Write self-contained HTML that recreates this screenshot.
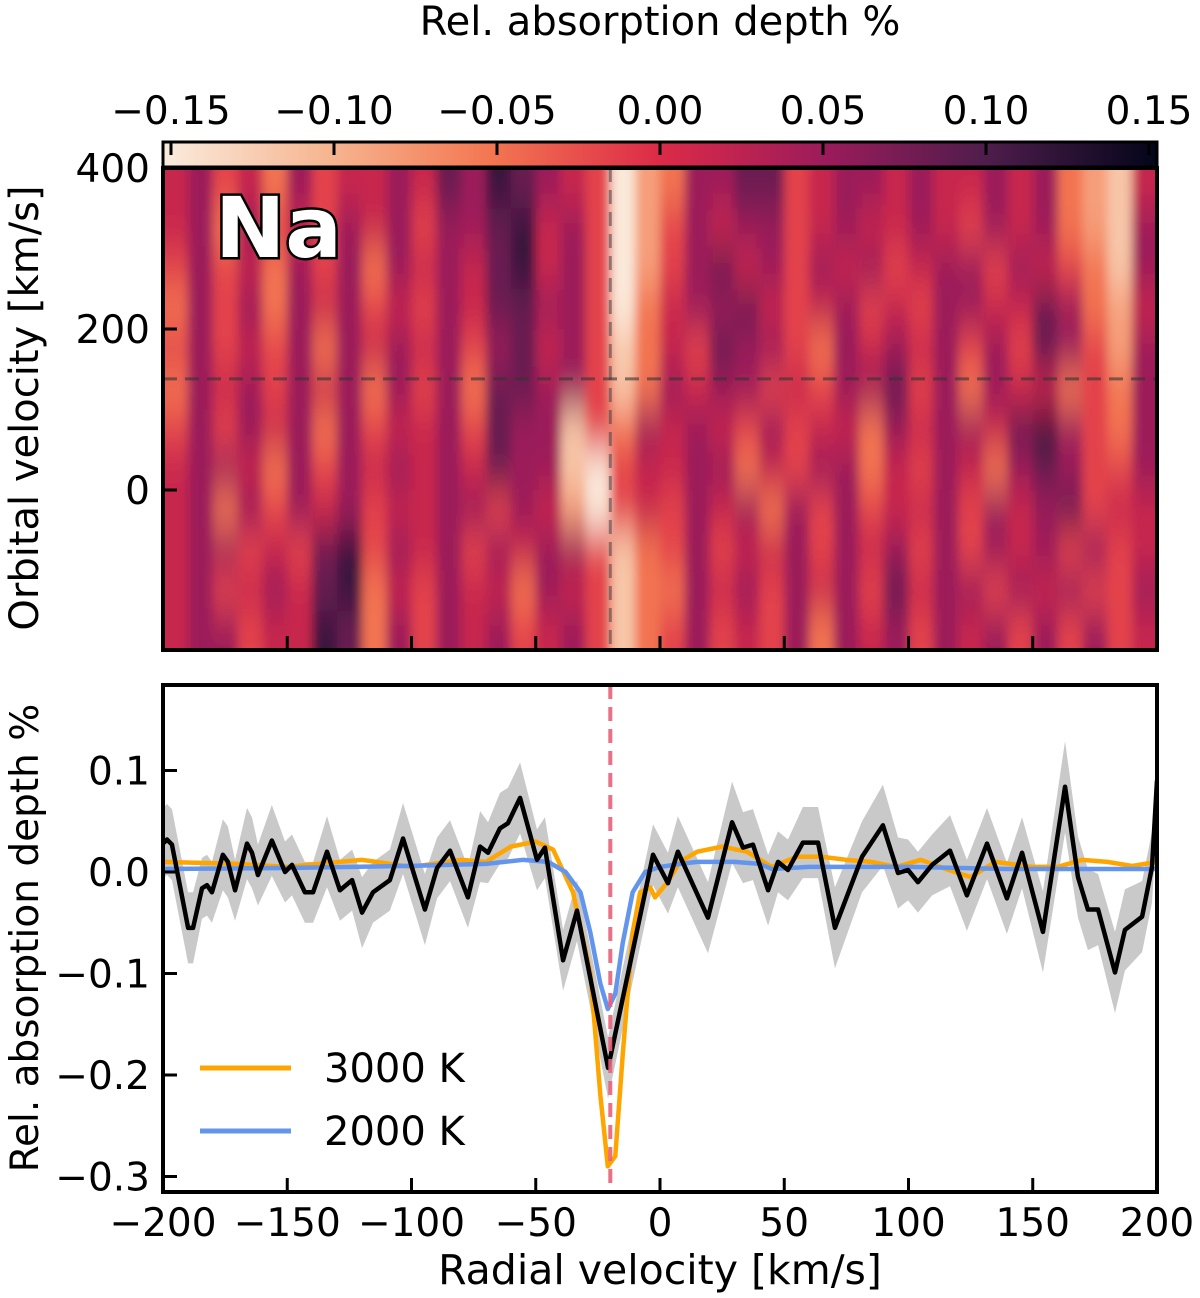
<!DOCTYPE html>
<html><head><meta charset="utf-8">
<style>
html,body{margin:0;padding:0;background:#fff;}
svg{display:block;font-family:"DejaVu Sans","Liberation Sans",sans-serif;}
</style></head>
<body>
<svg id="fig" width="1200" height="1298" viewBox="0 0 1200 1298" xmlns="http://www.w3.org/2000/svg">
<defs>
<linearGradient id="cmapgrad" x1="0" x2="1" y1="0" y2="0">
<stop offset="0" stop-color="#faebdd"/><stop offset="0.17" stop-color="#f6b48f"/><stop offset="0.33" stop-color="#f37651"/>
<stop offset="0.5" stop-color="#dc2a48"/><stop offset="0.67" stop-color="#9a1b5b"/><stop offset="0.83" stop-color="#4e1d4b"/><stop offset="1" stop-color="#03051a"/>
</linearGradient>
<clipPath id="hmclip"><rect x="163" y="168" width="994" height="482"/></clipPath>
<clipPath id="lnclip"><rect x="163" y="685" width="994" height="507"/></clipPath>
<filter id="blur" filterUnits="userSpaceOnUse" x="60" y="60" width="1200" height="700"><feGaussianBlur stdDeviation="5 22"/></filter>
</defs>
<g id="heatmap" clip-path="url(#hmclip)"><g id="cells" filter="url(#blur)"></g></g>
<g id="overlay"></g>
<g id="bottom"></g>
<g id="axes"></g>
</svg>
<script>
// ---------- data ----------
const hmRowsTop = [400,350,300,250,200,150,100,50,0,-50,-100,-150];
const hmColStart = -200, hmColStep = 10;
// each digit: 0 (−0.15) ... 9 (+0.15)
const hmGrid = [
"5645364556"+"5768765402"+"3667745665"+"6556563215",
"5636454656"+"4667856402"+"4656645655"+"6546563216",
"4645364636"+"5657856402"+"4675646564"+"5664654316",
"3646365645"+"4657766403"+"5667545645"+"4665576325",
"4645463656"+"5646756413"+"5476643656"+"5646476426",
"3656465636"+"4637766413"+"6566454667"+"4636553436",
"4646563645"+"5647661436"+"5654645536"+"5665786436",
"5665364656"+"5657661045"+"5663546635"+"4653676446",
"5636465645"+"5664652045"+"4656364645"+"5646567455",
"5664547846"+"5646566413"+"4645564656"+"4646564645",
"5645657835"+"4655365413"+"3656465647"+"5664656446",
"5664558736"+"4656456413"+"4645463656"+"4656464645"
];
const obsV = [-200,-198.4,-196.4,-189.9,-187.9,-184.3,-182.3,-180.3,-175.9,-173.9,-171,-166.2,-164.2,-161.8,-156.2,-150.9,-148.1,-142.9,-139.6,-134,-128.8,-123.9,-119.9,-115.5,-108.7,-103.4,-94.6,-89.7,-84.5,-77.3,-72.4,-69.2,-64.4,-61.2,-56.3,-49.5,-46.3,-39,-33.4,-20.9,-2.8,3.2,7.2,19.3,29,33.4,37.4,43.5,47.5,51.5,57.5,63.6,70.4,81.3,89.7,95.8,99.8,103.8,109.5,116.7,123.5,131.6,139.6,145.7,154.1,163,168.2,172.2,176.3,183.1,187.1,194,198,200];
const obsD = [0.028,0.032,0.027,-0.055,-0.055,-0.016,-0.013,-0.02,0.017,0.01,-0.018,0.028,0.019,-0.003,0.031,0,0.007,-0.02,-0.02,0.02,-0.018,-0.008,-0.04,-0.02,-0.008,0.033,-0.037,0.004,0.021,-0.025,0.025,0.019,0.043,0.048,0.073,0.012,0.024,-0.087,-0.038,-0.193,0.017,-0.011,0.02,-0.045,0.049,0.024,0.027,-0.018,0.01,0.002,0.029,0.029,-0.055,0.015,0.046,-0.001,0.002,-0.01,0.007,0.021,-0.023,0.028,-0.026,0.019,-0.059,0.084,-0.005,-0.037,-0.037,-0.099,-0.057,-0.044,0.005,0.09];
const obsErr = [0.035,0.035,0.035,0.035,0.035,0.03,0.03,0.03,0.035,0.035,0.03,0.035,0.035,0.03,0.035,0.03,0.03,0.03,0.03,0.035,0.03,0.03,0.035,0.03,0.03,0.035,0.035,0.03,0.03,0.03,0.035,0.03,0.035,0.035,0.035,0.03,0.03,0.03,0.03,0.03,0.03,0.03,0.035,0.035,0.04,0.035,0.035,0.035,0.03,0.03,0.035,0.035,0.04,0.035,0.04,0.035,0.03,0.03,0.03,0.035,0.035,0.035,0.035,0.035,0.04,0.045,0.04,0.04,0.035,0.04,0.04,0.035,0.035,0.04];
const m3000V = [-200,-170,-150,-120,-100,-80,-70,-60,-50,-43,-35,-28,-24,-21,-18,-15,-11,-8,-4,-2,3,8,15,25,35,45,55,65,75,85,95,105,115,125,135,150,160,170,180,190,200];
const m3000D = [0.01,0.008,0.005,0.012,0.005,0.012,0.01,0.025,0.03,0.022,-0.02,-0.1,-0.22,-0.29,-0.28,-0.18,-0.06,-0.02,-0.015,-0.025,-0.01,0.01,0.02,0.025,0.02,0.005,0.015,0.015,0.012,0.01,0.005,0.012,0.003,-0.005,0.01,0.005,0.005,0.012,0.01,0.006,0.01];
const m2000V = [-200,-150,-100,-70,-55,-45,-38,-32,-28,-24,-21,-18,-15,-11,-6,0,8,15,30,40,45,60,100,140,160,200];
const m2000D = [0.003,0.004,0.006,0.008,0.012,0.01,0,-0.02,-0.06,-0.11,-0.135,-0.12,-0.07,-0.02,0,0.005,0.008,0.01,0.01,0.008,0.003,0.005,0.005,0.003,0.003,0.003];
const xTicks = [-200,-150,-100,-50,0,50,100,150,200];
const yTicksTop = [400,200,0];
const yTicksBottom = [0.1,0.0,-0.1,-0.2,-0.3];
const yTickLabelsBottom = ["0.1","0.0","\u22120.1","\u22120.2","\u22120.3"];
const cbTicks = [-0.15,-0.10,-0.05,0.00,0.05,0.10,0.15];
const cbTickLabels = ["\u22120.15","\u22120.10","\u22120.05","0.00","0.05","0.10","0.15"];
const planetRV = -20, planetKp = 138;

// ---------- scales ----------
const NS = "http://www.w3.org/2000/svg";
const X = v => 660 + v * 2.485;
const YT = v => 490 - v * 0.805;
const YB = d => 872 - d * 1015;
const CB = c => 660 + c * 3260;
const cmapStops = [[0,[250,235,221]],[0.17,[246,180,143]],[0.33,[243,118,81]],[0.5,[220,42,72]],[0.67,[154,27,91]],[0.83,[78,29,75]],[1,[3,5,26]]];
function cmap(t){t=Math.max(0,Math.min(1,t));for(let i=1;i<cmapStops.length;i++){if(t<=cmapStops[i][0]){const a=cmapStops[i-1],b=cmapStops[i];const f=(t-a[0])/(b[0]-a[0]);const c=a[1].map((x,k)=>Math.round(x+(b[1][k]-x)*f));return `rgb(${c[0]},${c[1]},${c[2]})`;}}return "rgb(3,5,26)";}
function mk(tag, attrs, parent){const e=document.createElementNS(NS,tag);for(const k in attrs)e.setAttribute(k,attrs[k]);parent.appendChild(e);return e;}
const cells = document.getElementById('cells');
const overlay = document.getElementById('overlay');
const bottom = document.getElementById('bottom');
const axes = document.getElementById('axes');

// ---------- heatmap ----------
const nRows = hmGrid.length;
hmGrid.forEach((row, r) => {
  for (let c = 0; c < row.length; c++) {
    const val = -0.15 + 0.3 * (parseInt(row[c]) / 9);
    const v0 = hmColStart + c * hmColStep;
    let y0 = YT(hmRowsTop[r]), y1 = YT(hmRowsTop[r] - 50);
    if (r === 0) y0 -= 80;
    if (r === nRows - 1) y1 += 80;
    let x0 = X(v0), x1 = X(v0 + hmColStep);
    if (c === 0) x0 -= 40;
    if (c === row.length - 1) x1 += 40;
    const rc = mk('rect', {x: x0, y: y0, width: x1 - x0 + 0.5, height: y1 - y0 + 0.5, fill: cmap((val + 0.1525) / 0.305)}, cells);
    
    
  }
});
let l = mk('line', {x1: X(planetRV), x2: X(planetRV), y1: 168, y2: 650, stroke: '#444', 'stroke-opacity': 0.55, 'stroke-width': 3, 'stroke-dasharray': '14 8'}, overlay);


l = mk('line', {x1: 163, x2: 1157, y1: YT(planetKp), y2: YT(planetKp), stroke: '#333', 'stroke-opacity': 0.6, 'stroke-width': 3, 'stroke-dasharray': '14 8'}, overlay);


let t = mk('text', {x: 215, y: 257, 'font-size': 84, 'font-weight': 'bold', fill: '#fff', stroke: '#000', 'stroke-width': 5, 'paint-order': 'stroke'}, overlay);
t.textContent = 'Na';



// colorbar
let cb = mk('rect', {x: 163, y: 142, width: 994, height: 25, fill: 'url(#cmapgrad)', stroke: '#000', 'stroke-width': 3}, axes);


cbTicks.forEach((c, i) => {
  const tk = mk('line', {x1: CB(c), x2: CB(c), y1: 142, y2: 155, stroke: '#000', 'stroke-width': 3}, axes);
  
  
  const tl = mk('text', {x: CB(c), y: 124, 'font-size': 39, 'text-anchor': 'middle'}, axes);
  tl.textContent = cbTickLabels[i];
  
  
});
t = mk('text', {x: 660, y: 35, 'font-size': 40, 'text-anchor': 'middle'}, axes);
t.textContent = 'Rel. absorption depth %';



let fr = mk('rect', {x: 163, y: 168, width: 994, height: 482, fill: 'none', stroke: '#000', 'stroke-width': 4}, axes);


xTicks.forEach(v => {
  const tk = mk('line', {x1: X(v), x2: X(v), y1: 650, y2: 636, stroke: '#000', 'stroke-width': 3}, axes);
  
  
});
yTicksTop.forEach(v => {
  const tk = mk('line', {x1: 163, x2: 177, y1: YT(v), y2: YT(v), stroke: '#000', 'stroke-width': 3}, axes);
  
  
  const tl = mk('text', {x: 150, y: YT(v) + 14, 'font-size': 39, 'text-anchor': 'end'}, axes);
  tl.textContent = String(v);
  
  
});
t = mk('text', {x: 0, y: 0, 'font-size': 40, 'text-anchor': 'middle', transform: 'translate(38,408) rotate(-90)'}, axes);
t.textContent = 'Orbital velocity [km/s]';



// ---------- bottom panel ----------
const lineG = mk('g', {'clip-path': 'url(#lnclip)'}, bottom);
let up = obsV.map((v, i) => `${X(v)},${YB(obsD[i] + obsErr[i])}`);
let dn = obsV.map((v, i) => `${X(v)},${YB(obsD[i] - obsErr[i])}`).reverse();
let band = mk('polygon', {points: up.concat(dn).join(' '), fill: '#c9c9c9', stroke: 'none'}, lineG);


let pm = mk('polyline', {points: m3000V.map((v, i) => `${X(v)},${YB(m3000D[i])}`).join(' '), fill: 'none', stroke: '#ffa500', 'stroke-width': 4.5, 'stroke-linejoin': 'round'}, lineG);


pm = mk('polyline', {points: m2000V.map((v, i) => `${X(v)},${YB(m2000D[i])}`).join(' '), fill: 'none', stroke: '#6495ed', 'stroke-width': 4.5, 'stroke-linejoin': 'round'}, lineG);


pm = mk('polyline', {points: obsV.map((v, i) => `${X(v)},${YB(obsD[i])}`).join(' '), fill: 'none', stroke: '#000', 'stroke-width': 4.5, 'stroke-linejoin': 'round'}, lineG);


l = mk('line', {x1: X(planetRV), x2: X(planetRV), y1: 685, y2: 1192, stroke: '#e8617a', 'stroke-opacity': 0.9, 'stroke-width': 4, 'stroke-dasharray': '14 8'}, lineG);



fr = mk('rect', {x: 163, y: 685, width: 994, height: 507, fill: 'none', stroke: '#000', 'stroke-width': 4}, axes);


xTicks.forEach(v => {
  const tk = mk('line', {x1: X(v), x2: X(v), y1: 1192, y2: 1178, stroke: '#000', 'stroke-width': 3}, axes);
  
  
  const tl = mk('text', {x: X(v), y: 1236, 'font-size': 39, 'text-anchor': 'middle'}, axes);
  tl.textContent = v < 0 ? '\u2212' + Math.abs(v) : String(v);
  
  
});
yTicksBottom.forEach((d, i) => {
  const tk = mk('line', {x1: 163, x2: 177, y1: YB(d), y2: YB(d), stroke: '#000', 'stroke-width': 3}, axes);
  
  
  const tl = mk('text', {x: 150, y: YB(d) + 14, 'font-size': 39, 'text-anchor': 'end'}, axes);
  tl.textContent = yTickLabelsBottom[i];
  
  
});
t = mk('text', {x: 660, y: 1284, 'font-size': 41, 'text-anchor': 'middle'}, axes);
t.textContent = 'Radial velocity [km/s]';


t = mk('text', {x: 0, y: 0, 'font-size': 39, 'text-anchor': 'middle', transform: 'translate(38,938) rotate(-90)'}, axes);
t.textContent = 'Rel. absorption depth %';



// legend
const legendItems = [["3000 K", "#ffa500", 1068], ["2000 K", "#6495ed", 1131]];
legendItems.forEach(it => {
  const ln = mk('line', {x1: 200, x2: 291, y1: it[2], y2: it[2], stroke: it[1], 'stroke-width': 5}, axes);
  
  
  const tx = mk('text', {x: 324, y: it[2] + 14, 'font-size': 40}, axes);
  tx.textContent = it[0];
  
  
});
</script>
</body></html>
